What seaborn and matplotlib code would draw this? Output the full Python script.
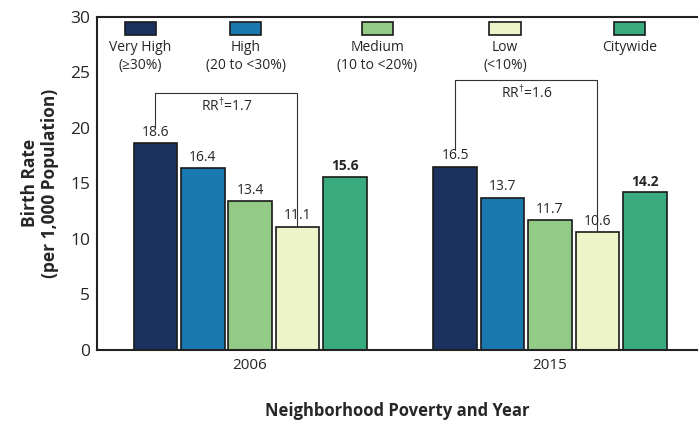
import matplotlib
matplotlib.use("Agg")
import matplotlib.pyplot as plt
import seaborn as sns
import pandas as pd
from matplotlib.patches import Rectangle

# data
years = ["2006", "2015"]
groups = ["Very High", "High", "Medium", "Low", "Citywide"]
group_ranges = ["(\u226530%)", "(20 to <30%)", "(10 to <20%)", "(<10%)", ""]
rates_2006 = [18.6, 16.4, 13.4, 11.1, 15.6]
rates_2015 = [16.5, 13.7, 11.7, 10.6, 14.2]
rr_values = ["1.7", "1.6"]
colors = ["#1b3260", "#1a78b0", "#93ca86", "#eef4c9", "#3aab7e"]

df = pd.DataFrame({
    "year": [y for y in years for _ in groups],
    "group": groups * 2,
    "rate": rates_2006 + rates_2015,
})

sns.set_style("white")
plt.rcParams["font.family"] = ["Open Sans", "DejaVu Sans"]

fig = plt.figure(figsize=(6.99, 4.23), dpi=100)
ax = fig.add_axes([0.139, 0.173, 0.858, 0.787])

sns.barplot(data=df, x="year", y="rate", hue="group", hue_order=groups,
            palette=colors, saturation=1, width=0.79, gap=0.08,
            edgecolor="#1a1a1a", linewidth=1.2, legend=False, ax=ax)

ax.set_ylim(0, 30)
ax.set_xlim(-0.51, 1.49)
ax.set_yticks(range(0, 31, 5))
ax.tick_params(axis="y", labelsize=12.5, length=3, color="#222222", pad=2)
ax.tick_params(axis="x", labelsize=11, length=0, pad=6)
for s in ["left", "bottom", "top"]:
    ax.spines[s].set_color("#222222")
    ax.spines[s].set_linewidth(1.5)
ax.spines["right"].set_visible(False)

ax.set_xlabel("Neighborhood Poverty and Year", fontsize=12, fontweight="bold",
              labelpad=21)
ax.set_ylabel("Birth Rate\n(per 1,000 Population)", fontsize=12.5, fontweight="bold",
              labelpad=8, linespacing=1.15)

# value labels and bar centers
centers = {}
for cont, g in zip(ax.containers, groups):
    for bar, y in zip(cont, years):
        cx = bar.get_x() + bar.get_width() / 2
        h = bar.get_height()
        centers[(y, g)] = (cx, h)
        ax.text(cx, h + 0.3, f"{h:.1f}", ha="center", va="bottom", fontsize=10,
                fontweight="bold" if g == "Citywide" else "normal")

# rate-ratio brackets
for y, rr, top in zip(years, rr_values, [23.1, 24.3]):
    x0, h0 = centers[(y, "Very High")]
    x1, h1 = centers[(y, "Low")]
    ax.plot([x0, x0, x1, x1], [h0 + 1.5, top, top, h1], color="#333333", lw=0.8)
    ax.text((x0 + x1) / 2, top - 0.3, "RR$^{\\mathregular{\u2020}}$=" + rr,
            ha="center", va="top", fontsize=10)

# legend drawn as swatches with labels below
leg_x = [0.072, 0.248, 0.467, 0.68, 0.888]
for lx, c, g, r in zip(leg_x, colors, groups, group_ranges):
    ax.add_patch(Rectangle((lx - 0.026, 0.945), 0.052, 0.041, transform=ax.transAxes,
                           facecolor=c, edgecolor="#1a1a1a", lw=1.2, clip_on=False))
    ax.text(lx, 0.908, g, transform=ax.transAxes, ha="center", va="center", fontsize=10)
    if r:
        ax.text(lx, 0.853, r, transform=ax.transAxes, ha="center", va="center", fontsize=10)

fig.savefig("out.png", dpi=100)
